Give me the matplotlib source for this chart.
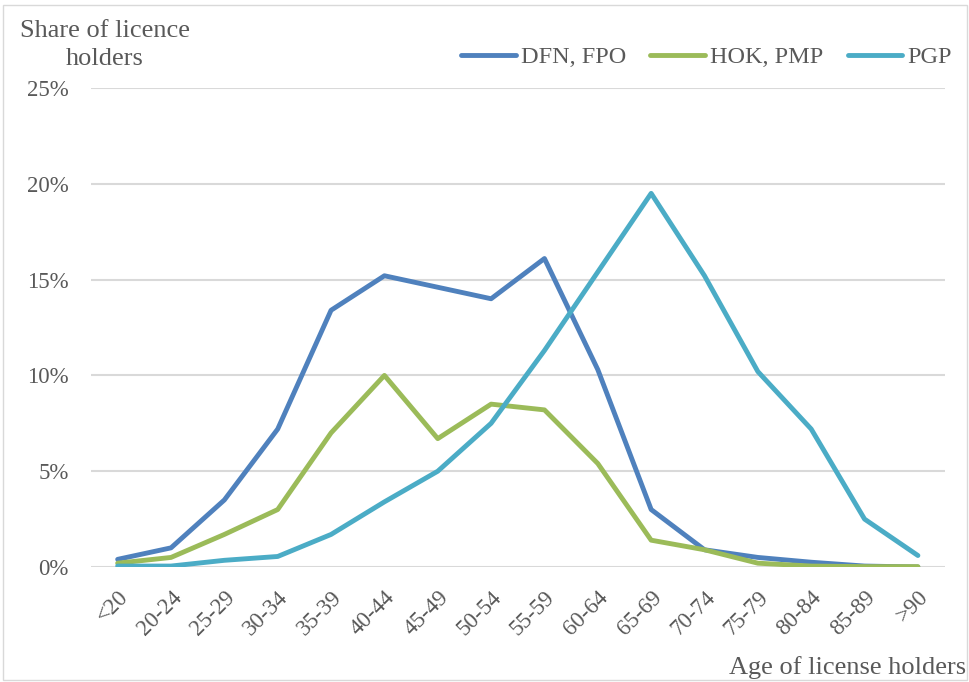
import numpy as np
import matplotlib.pyplot as plt

ages = ['<20', '20-24', '25-29', '30-34', '35-39', '40-44', '45-49', '50-54',
        '55-59', '60-64', '65-69', '70-74', '75-79', '80-84', '85-89', '>90']
dfn_fpo = [0.4, 1.0, 3.5, 7.2, 13.4, 15.2, 14.6, 14.0, 16.1, 10.3, 3.0, 0.9, 0.5, 0.25, 0.05, 0.0]
hok_pmp = [0.2, 0.5, 1.7, 3.0, 7.0, 10.0, 6.7, 8.5, 8.2, 5.4, 1.4, 0.9, 0.2, 0.05, 0.02, 0.02]
pgp = [0.05, 0.05, 0.35, 0.55, 1.7, 3.4, 5.0, 7.5, 11.3, 15.4, 19.5, 15.2, 10.2, 7.2, 2.5, 0.6]

plt.rcParams['font.family'] = ['Liberation Serif', 'DejaVu Serif']
grey = '#595959'

fig = plt.figure(figsize=(9.7, 6.82), dpi=100)
ax = fig.add_axes([0.0938, 0.1686, 0.880, 0.7024])

x = np.arange(len(ages))
ax.plot(x, dfn_fpo, color='#4f81bd', lw=3.5, label='DFN, FPO', solid_capstyle='round')
ax.plot(x, hok_pmp, color='#9bbb59', lw=3.5, label='HOK, PMP', solid_capstyle='round')
ax.plot(x, pgp, color='#4bacc6', lw=3.5, label='PGP', solid_capstyle='round')

ax.set_xlim(-0.5, len(ages) - 0.5)
ax.set_ylim(0, 25)
ax.set_yticks(np.arange(0, 26, 5))
ax.set_yticklabels([f'{v}%' for v in range(0, 26, 5)])
ax.set_xticks(x)
ax.set_xticklabels(ages, rotation=45, ha='right', rotation_mode='anchor')
ax.tick_params(length=0, labelsize=16.5, colors=grey)
ax.tick_params(axis='x', pad=14)
ax.tick_params(axis='y', pad=16)
ax.grid(axis='y', color='#d9d9d9', lw=1.5)
ax.set_axisbelow(True)
for s in ax.spines.values():
    s.set_visible(False)

fig.text(0.108, 0.970, 'Share of licence\nholders', fontsize=19, color=grey,
         va='top', ha='center', multialignment='center', linespacing=1.35)
fig.text(0.996, 0.004, 'Age of license holders', fontsize=19, color=grey,
         va='bottom', ha='right')

ax.legend(loc='center right', bbox_to_anchor=(0.981, 0.916), bbox_transform=fig.transFigure,
          ncol=3, frameon=False, fontsize=17.5, labelcolor=grey, handlelength=2.25,
          handletextpad=0.2, columnspacing=1.0, borderpad=0, borderaxespad=0)

fig.patches.append(plt.Rectangle((0.003, 0.003), 0.994, 0.99, transform=fig.transFigure,
                                 fill=False, edgecolor='#d9d9d9', lw=1))

fig.savefig('out.png', dpi=100)
